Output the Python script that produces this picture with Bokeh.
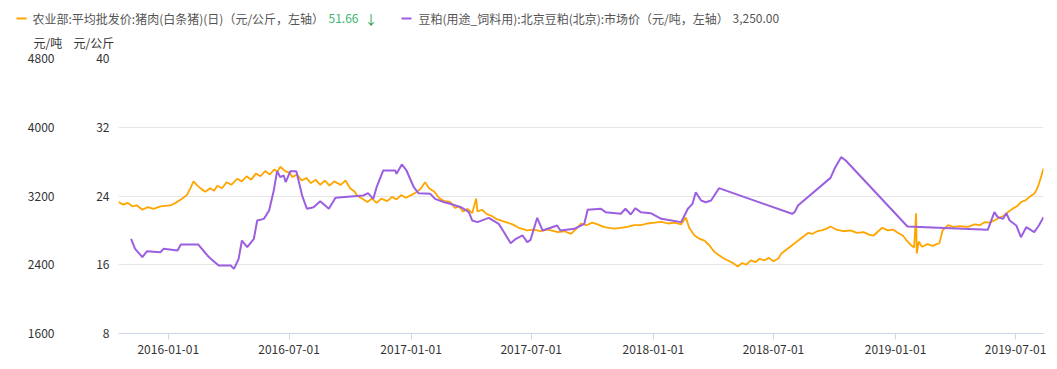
import pandas as pd
from bokeh.plotting import figure
from bokeh.layouts import column, row
from bokeh.models import Range1d, LinearAxis, FixedTicker
from bokeh.core.properties import value
from bokeh.embed import file_html
from bokeh.resources import INLINE

FONT = "Noto Sans CJK SC"

# ---- data ----
pork_dates = [
    "2015-10-18", "2015-10-25", "2015-11-01", "2015-11-08", "2015-11-15", "2015-11-23", "2015-12-01",
    "2015-12-10", "2015-12-20", "2016-01-04", "2016-01-12", "2016-01-20", "2016-01-29", "2016-02-04",
    "2016-02-08", "2016-02-14", "2016-02-20", "2016-02-26", "2016-03-04", "2016-03-10", "2016-03-15",
    "2016-03-22", "2016-03-29", "2016-04-05", "2016-04-14", "2016-04-21", "2016-04-28", "2016-05-05",
    "2016-05-12", "2016-05-19", "2016-05-26", "2016-06-02", "2016-06-09", "2016-06-13", "2016-06-18",
    "2016-06-25", "2016-07-02", "2016-07-06", "2016-07-13", "2016-07-20", "2016-07-27", "2016-08-03",
    "2016-08-10", "2016-08-17", "2016-08-24", "2016-08-31", "2016-09-07", "2016-09-17", "2016-09-24",
    "2016-10-01", "2016-10-08", "2016-10-12", "2016-10-19", "2016-10-27", "2016-11-03", "2016-11-10",
    "2016-11-17", "2016-11-26", "2016-12-03", "2016-12-10", "2016-12-17", "2016-12-24", "2017-01-01",
    "2017-01-08", "2017-01-15", "2017-01-22", "2017-01-28", "2017-02-05", "2017-02-12", "2017-02-20",
    "2017-03-01", "2017-03-08", "2017-03-14", "2017-03-20", "2017-03-27", "2017-04-03", "2017-04-09",
    "2017-04-11", "2017-04-18", "2017-04-25", "2017-05-02", "2017-05-10", "2017-05-18", "2017-05-26",
    "2017-06-03", "2017-06-12", "2017-06-25", "2017-07-05", "2017-07-15", "2017-07-25", "2017-07-31",
    "2017-08-10", "2017-08-20", "2017-08-30", "2017-09-07", "2017-09-14", "2017-09-22", "2017-10-01",
    "2017-10-09", "2017-10-18", "2017-10-26", "2017-11-03", "2017-11-13", "2017-11-23", "2017-12-03",
    "2017-12-13", "2017-12-23", "2018-01-03", "2018-01-13", "2018-01-23", "2018-02-02", "2018-02-12",
    "2018-02-19", "2018-02-24", "2018-03-04", "2018-03-12", "2018-03-19", "2018-03-26", "2018-04-03",
    "2018-04-10", "2018-04-18", "2018-04-26", "2018-05-03", "2018-05-08", "2018-05-15", "2018-05-21",
    "2018-05-28", "2018-06-04", "2018-06-10", "2018-06-17", "2018-06-24", "2018-07-01", "2018-07-08",
    "2018-07-13", "2018-08-22", "2018-08-29", "2018-09-05", "2018-09-12", "2018-09-19", "2018-09-25",
    "2018-10-05", "2018-10-15", "2018-10-25", "2018-11-04", "2018-11-14", "2018-11-22", "2018-11-29",
    "2018-12-06", "2018-12-12", "2018-12-20", "2018-12-28", "2019-01-05", "2019-01-12", "2019-01-18",
    "2019-01-24", "2019-01-29", "2019-02-01", "2019-02-02", "2019-02-05", "2019-02-10", "2019-02-18",
    "2019-02-26", "2019-03-04", "2019-03-08", "2019-03-13", "2019-03-21", "2019-03-29", "2019-04-08",
    "2019-04-20", "2019-04-30", "2019-05-08", "2019-05-15", "2019-05-22", "2019-05-30", "2019-06-07",
    "2019-06-13", "2019-06-19", "2019-06-26", "2019-07-03", "2019-07-09", "2019-07-16", "2019-07-22",
    "2019-07-29", "2019-08-02", "2019-08-05", "2019-08-09", "2019-08-12",
]
pork_values = [
    23.3, 23.0, 23.2, 22.8, 22.9, 22.4, 22.7,
    22.5, 22.8, 22.9, 23.2, 23.6, 24.1, 25.0,
    25.7, 25.2, 24.8, 24.5, 24.9, 24.6, 25.2,
    24.9, 25.6, 25.3, 26.0, 25.7, 26.3, 25.9,
    26.6, 26.3, 26.9, 26.5, 27.1, 26.8, 27.4,
    26.9, 26.7, 26.2, 26.5, 25.8, 26.1, 25.5,
    25.9, 25.3, 25.8, 25.2, 25.7, 25.3, 25.8,
    24.9, 24.5, 24.0, 23.7, 23.3, 23.7, 23.2,
    23.7, 23.4, 23.9, 23.6, 24.1, 23.8, 24.1,
    24.4, 24.8, 25.6, 24.9, 24.5, 23.8, 23.4,
    23.3, 22.6, 22.8, 22.2, 22.5, 22.0, 23.7,
    22.2, 22.4, 21.9, 21.7, 21.3, 21.1, 20.9,
    20.7, 20.3, 20.0, 20.1, 19.9, 20.1, 20.0,
    19.8, 19.9, 19.6, 20.2, 20.8, 20.6, 20.9,
    20.7, 20.4, 20.3, 20.2, 20.3, 20.4, 20.6,
    20.6, 20.8, 20.9, 21.0, 20.8, 20.9, 20.7,
    21.5, 20.3, 19.4, 19.0, 18.8, 18.3, 17.5,
    17.1, 16.7, 16.4, 16.1, 15.8, 16.2, 16.0,
    16.5, 16.3, 16.7, 16.5, 16.8, 16.4, 16.7,
    17.3, 19.7, 19.6, 19.9, 20.0, 20.2, 20.45,
    20.05, 19.9, 20.0, 19.7, 19.8, 19.5, 19.4,
    19.9, 20.3, 20.0, 20.1, 19.7, 19.4, 18.8,
    18.3, 18.0, 22.0, 17.3, 18.7, 18.1, 18.4,
    18.2, 18.4, 18.5, 20.0, 20.6, 20.4, 20.5,
    20.4, 20.7, 20.6, 20.95, 20.9, 21.15, 21.5,
    21.7, 22.1, 22.5, 22.8, 23.3, 23.5, 23.9,
    24.25, 24.8, 25.4, 26.4, 27.2,
]

meal_dates = [
    "2015-11-06", "2015-11-12", "2015-11-23", "2015-11-30", "2015-12-20", "2015-12-25", "2016-01-15",
    "2016-01-20", "2016-02-15", "2016-02-29", "2016-03-05", "2016-03-17", "2016-04-04", "2016-04-09",
    "2016-04-16", "2016-04-21", "2016-04-29", "2016-05-09", "2016-05-14", "2016-05-24", "2016-06-01",
    "2016-06-08", "2016-06-13", "2016-06-18", "2016-06-23", "2016-06-26", "2016-07-03", "2016-07-12",
    "2016-07-21", "2016-07-28", "2016-08-07", "2016-08-17", "2016-08-30", "2016-09-09", "2016-10-21",
    "2016-10-28", "2016-11-05", "2016-11-10", "2016-11-20", "2016-12-08", "2016-12-10", "2016-12-18",
    "2016-12-25", "2017-01-05", "2017-01-12", "2017-01-30", "2017-02-06", "2017-02-20", "2017-03-01",
    "2017-03-17", "2017-03-29", "2017-04-03", "2017-04-11", "2017-04-28", "2017-05-13", "2017-05-21",
    "2017-05-31", "2017-06-08", "2017-06-18", "2017-06-25", "2017-06-30", "2017-07-10", "2017-07-18",
    "2017-08-09", "2017-08-14", "2017-09-04", "2017-09-19", "2017-09-24", "2017-10-14", "2017-10-21",
    "2017-11-13", "2017-11-20", "2017-11-28", "2017-12-05", "2017-12-13", "2017-12-28", "2018-01-13",
    "2018-02-12", "2018-02-22", "2018-03-01", "2018-03-06", "2018-03-14", "2018-03-21", "2018-03-29",
    "2018-04-10", "2018-07-29", "2018-08-02", "2018-08-07", "2018-09-25", "2018-10-01", "2018-10-11",
    "2018-10-18", "2019-01-19", "2019-05-20", "2019-05-30", "2019-06-04", "2019-06-12", "2019-06-17",
    "2019-06-22", "2019-07-02", "2019-07-09", "2019-07-17", "2019-07-29", "2019-08-05", "2019-08-12",
]
meal_values = [
    2702, 2585, 2488, 2558, 2546, 2585, 2566,
    2636, 2636, 2508, 2469, 2391, 2391, 2352,
    2469, 2682, 2605, 2702, 2915, 2934, 3031,
    3264, 3489, 3419, 3439, 3361, 3489, 3489,
    3198, 3051, 3070, 3140, 3051, 3179, 3206,
    3233, 3167, 3302, 3497, 3497, 3458, 3567,
    3497, 3302, 3233, 3225, 3167, 3128, 3109,
    3070, 3012, 2915, 2896, 2946, 2876, 2779,
    2651, 2702, 2741, 2663, 2690, 2946, 2799,
    2857, 2799, 2818, 2876, 3040, 3051, 3012,
    2993, 3051, 2985, 3058, 3012, 3000, 2934,
    2896, 3051, 3109, 3244, 3148, 3128, 3148,
    3291, 2993, 3012, 3089, 3411, 3516, 3652,
    3613, 2845, 2806, 3012, 2954, 2934, 3000,
    2915, 2857, 2721, 2837, 2779, 2857, 2954,
]

x_tick_labels = ["2016-01-01", "2016-07-01", "2017-01-01", "2017-07-01",
                 "2018-01-01", "2018-07-01", "2019-01-01", "2019-07-01"]
kg_ticks = [8, 16, 24, 32, 40]
ton_ticks = [1600, 2400, 3200, 4000, 4800]

pork_name = "农业部:平均批发价:猪肉(白条猪)(日)（元/公斤，左轴）"
pork_last = "51.66"
pork_arrow = "↓"
meal_name = "豆粕(用途_饲料用):北京豆粕(北京):市场价（元/吨，左轴）"
meal_last = "3,250.00"
unit_ton = "元/吨"
unit_kg = "元/公斤"

ORANGE = "#FFA500"
PURPLE = "#9B5FE0"
TXT = "#333333"
LEG = "#555555"
GREEN = "#3DB56F"

W = 1049
HH = 50  # header height

# ---- header (legend + unit titles) ----
h = figure(width=W, height=HH, output_backend="svg", toolbar_location=None,
           x_range=Range1d(0, W), y_range=Range1d(HH, 0),
           min_border=0, min_border_left=0, min_border_right=0,
           min_border_top=0, min_border_bottom=0,
           x_axis_location=None, y_axis_location=None)
h.outline_line_color = None
h.xgrid.visible = False
h.ygrid.visible = False

h.segment(x0=[16, 401], y0=[18, 18], x1=[26, 411], y1=[18, 18],
          line_color=[ORANGE, PURPLE], line_width=2)

def htext(x, y, text, color, size="12px"):
    h.text(x=[x], y=[y], text=[text], text_font=value(FONT), text_font_size=size,
           text_color=color, text_align="left", text_baseline="middle")

htext(32, 18, pork_name, LEG)
htext(328, 18, pork_last, GREEN)
htext(364, 18, pork_arrow, "#2E9E55", size="13px")
htext(418, 18, meal_name, LEG)
htext(732, 18, meal_last, LEG)
htext(33, 41.5, unit_ton, TXT)
htext(73, 41.5, unit_kg, TXT)

# ---- main chart ----
pd_pork = pd.to_datetime(pork_dates)
pd_meal = pd.to_datetime(meal_dates)

TOP = 58 - HH
p = figure(width=W, height=TOP + 275 + 28, x_axis_type="datetime", output_backend="svg",
           toolbar_location=None,
           x_range=Range1d(pd.Timestamp("2015-10-18"), pd.Timestamp("2019-08-12")),
           y_range=Range1d(8, 40),
           min_border_left=118, min_border_right=6, min_border_top=TOP, min_border_bottom=28)
p.extra_y_ranges = {"ton": Range1d(1600, 4800)}
p.outline_line_color = None

tick_ms = [pd.Timestamp(t).value / 1e6 for t in x_tick_labels]
xa = p.xaxis[0]
xa.ticker = FixedTicker(ticks=tick_ms)
xa.major_label_overrides = {t: lab for t, lab in zip(tick_ms, x_tick_labels)}
xa.axis_line_color = "#ccd6eb"
xa.major_tick_line_color = "#ccd6eb"
xa.major_tick_out = 6
xa.major_tick_in = 0
xa.minor_tick_line_color = None
xa.major_label_text_font = FONT
xa.major_label_text_font_size = "12px"
xa.major_label_text_color = TXT
xa.major_label_standoff = 5
p.xgrid.visible = False

ya = p.yaxis[0]
ya.ticker = FixedTicker(ticks=kg_ticks)
ya.axis_line_color = None
ya.major_tick_line_color = None
ya.minor_tick_line_color = None
ya.major_label_text_font = FONT
ya.major_label_text_font_size = "12px"
ya.major_label_text_color = TXT
ya.major_label_standoff = 3
p.ygrid.ticker = FixedTicker(ticks=kg_ticks)
p.ygrid.grid_line_color = "#e6e6e6"

ton_axis = LinearAxis(y_range_name="ton", ticker=FixedTicker(ticks=ton_ticks))
ton_axis.axis_line_color = None
ton_axis.major_tick_line_color = None
ton_axis.minor_tick_line_color = None
ton_axis.major_label_text_font = FONT
ton_axis.major_label_text_font_size = "12px"
ton_axis.major_label_text_color = TXT
ton_axis.major_label_standoff = 33
p.add_layout(ton_axis, "left")

p.line(pd_pork, pork_values, line_color=ORANGE, line_width=1.8)
p.line(pd_meal, meal_values, line_color=PURPLE, line_width=2, y_range_name="ton")

layout = column(row(h), p, spacing=0)
open("out.html", "w").write(file_html(layout, INLINE))
